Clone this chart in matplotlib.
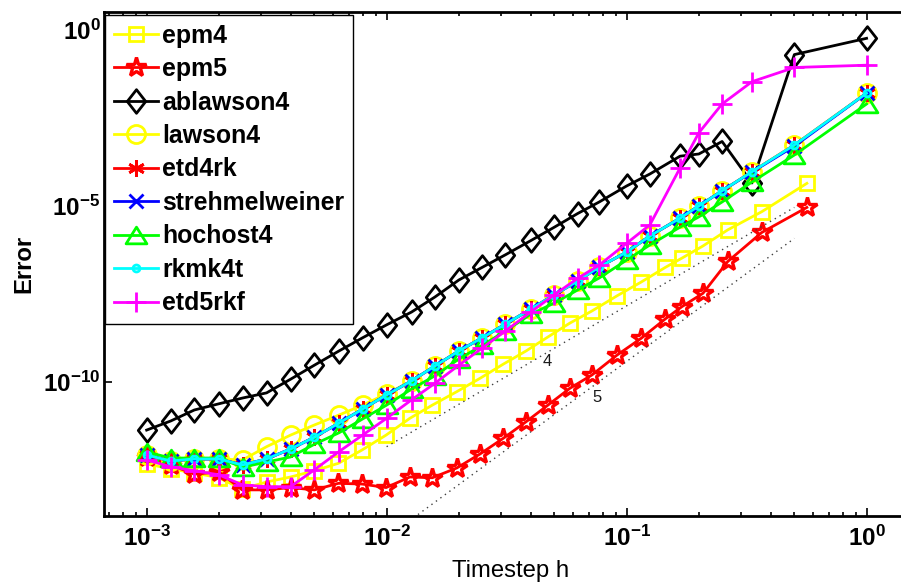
import matplotlib
matplotlib.use("Agg")
import matplotlib.pyplot as plt
from matplotlib.path import Path
from matplotlib.ticker import FixedLocator, NullLocator

plt.rcParams['font.family'] = ['Liberation Sans', 'DejaVu Sans']
plt.rcParams['mathtext.fontset'] = 'custom'
plt.rcParams['mathtext.rm'] = 'Liberation Sans:bold'
plt.rcParams['mathtext.it'] = 'Liberation Sans:bold'
plt.rcParams['mathtext.bf'] = 'Liberation Sans:bold'
plt.rcParams['mathtext.sf'] = 'Liberation Sans:bold'

# step sizes (h = 1/N)
h = [1.0, 0.5, 0.333, 0.25, 0.2, 0.167, 0.125, 0.1, 0.0769, 0.0625, 0.05, 0.04, 0.03125, 0.025,
     0.02, 0.0159, 0.0127, 0.01, 0.00794, 0.00633, 0.005, 0.00398, 0.00316, 0.00251, 0.002,
     0.00158, 0.00126, 0.001]
# the epm runs use slightly shifted step sizes
h_epm = [0.564, 0.366, 0.264, 0.208, 0.170, 0.145, 0.115, 0.0912, 0.0717, 0.058, 0.047, 0.0381,
         0.0306, 0.0245, 0.0196, 0.0155, 0.0125, 0.00995, 0.0079, 0.0063, 0.005, 0.00398, 0.00316,
         0.0025, 0.002, 0.00158, 0.00126, 0.001]

epm4 = [4.4e-5, 6.9e-6, 2.1e-6, 7.3e-7, 3.3e-7, 1.8e-7, 6.9e-8, 2.8e-8, 1.04e-8, 4.7e-9, 1.9e-9,
        7.6e-10, 3.2e-10, 1.27e-10, 5.3e-11, 2.2e-11, 9.3e-12, 3.1e-12, 1.17e-12, 4.9e-13, 3.0e-13,
        2.0e-13, 1.44e-13, 9.1e-14, 1.9e-13, 2.6e-13, 3.4e-13, 4.7e-13]
epm5 = [9.1e-6, 1.77e-6, 2.65e-7, 3.3e-8, 1.38e-8, 6.2e-9, 1.74e-9, 5.8e-10, 1.58e-10, 6.6e-11,
        2.2e-11, 7.4e-12, 2.5e-12, 9.0e-13, 3.6e-13, 1.9e-13, 2.0e-13, 1.0e-13, 1.26e-13, 1.32e-13,
        8.6e-14, 1.0e-13, 8.6e-14, 8.6e-14, 2.8e-13, 2.4e-13, 4.4e-13, 7.4e-13]
ablawson4 = [5.8e-1, 2.0e-1, 4.5e-5, 6.8e-4, 3.0e-4, 2.6e-4, 8.1e-5, 3.7e-5, 1.3e-5, 6.1e-6, 2.5e-6,
             1.05e-6, 4.1e-7, 1.8e-7, 7.9e-8, 2.6e-8, 9.7e-9, 4.2e-9, 1.8e-9, 7.6e-10, 3.0e-10,
             1.2e-10, 4.9e-11, 3.5e-11, 2.4e-11, 1.6e-11, 7.8e-12, 4.3e-12]
lawson4 = [1.6e-2, 5.4e-4, 9.4e-5, 2.7e-5, 1.0e-5, 4.5e-6, 1.4e-6, 4.9e-7, 1.85e-7, 7.4e-8, 3.0e-8,
           1.19e-8, 4.4e-9, 1.8e-9, 7.6e-10, 2.85e-10, 1.07e-10, 4.6e-11, 2.2e-11, 1.15e-11, 6.0e-12,
           3.1e-12, 1.45e-12, 6.1e-13, 6.5e-13, 6.5e-13, 5.7e-13, 8.4e-13]
etd4rk = [1.6e-2, 5.4e-4, 9.4e-5, 2.7e-5, 1.0e-5, 4.5e-6, 1.4e-6, 4.9e-7, 1.85e-7, 7.4e-8, 3.0e-8,
          1.19e-8, 4.4e-9, 1.8e-9, 7.6e-10, 2.85e-10, 1.07e-10, 4.3e-11, 1.7e-11, 6.8e-12, 2.7e-12,
          1.25e-12, 6.5e-13, 4.4e-13, 6.5e-13, 6.5e-13, 5.7e-13, 8.4e-13]
strehmelweiner = [1.6e-2, 5.0e-4, 9.2e-5, 2.7e-5, 1.0e-5, 4.5e-6, 1.4e-6, 4.9e-7, 1.85e-7, 7.4e-8,
                  3.0e-8, 1.19e-8, 4.4e-9, 1.8e-9, 7.6e-10, 2.85e-10, 1.07e-10, 4.3e-11, 1.7e-11,
                  6.8e-12, 2.7e-12, 1.25e-12, 6.5e-13, 4.4e-13, 6.5e-13, 6.5e-13, 5.7e-13, 8.4e-13]
hochost4 = [7.9e-3, 2.8e-4, 4.8e-5, 1.3e-5, 4.9e-6, 2.5e-6, 7.8e-7, 2.9e-7, 9.0e-8, 4.1e-8, 1.75e-8,
            8.5e-9, 2.8e-9, 1.1e-9, 4.5e-10, 1.5e-10, 6.3e-11, 2.2e-11, 8.9e-12, 3.6e-12, 1.7e-12,
            7.4e-13, 5.3e-13, 3.8e-13, 6.9e-13, 6.9e-13, 6.9e-13, 1.03e-12]
rkmk4t = [1.6e-2, 5.4e-4, 9.4e-5, 2.7e-5, 1.0e-5, 4.5e-6, 1.4e-6, 4.9e-7, 1.85e-7, 7.4e-8, 3.0e-8,
          1.19e-8, 4.4e-9, 1.8e-9, 7.6e-10, 2.85e-10, 1.07e-10, 4.3e-11, 1.7e-11, 6.8e-12, 2.7e-12,
          1.25e-12, 6.5e-13, 4.4e-13, 6.5e-13, 6.5e-13, 5.7e-13, 8.4e-13]
etd5rkf = [1.0e-1, 8.6e-2, 3.4e-2, 7.9e-3, 1.2e-3, 1.2e-4, 2.9e-6, 8.7e-7, 2.1e-7, 8.8e-8, 3.0e-8,
           9.9e-9, 2.8e-9, 9.2e-10, 3.0e-10, 9.2e-11, 3.1e-11, 9.3e-12, 3.1e-12, 1.05e-12, 3.2e-13,
           1.06e-13, 1.06e-13, 1.19e-13, 2.3e-13, 3.0e-13, 3.9e-13, 6.1e-13]

# reference slopes (order 4 and 5)
ref_h = [0.01, 0.5]
ref4 = [1.45e-12, 9.1e-6]
ref5 = [3.8e-15, 1.2e-6]
ref_labels = ['4', '5']
ref_label_pos = [(0.0466, 3.7e-10), (0.0751, 3.7e-11)]

xticks = [1e-3, 1e-2, 1e-1, 1e0]
xticklabels = [r'$10^{-3}$', r'$10^{-2}$', r'$10^{-1}$', r'$10^{0}$']
yticks = [1e-10, 1e-5, 1e0]
yticklabels = [r'$10^{-10}$', r'$10^{-5}$', r'$10^{0}$']

diamond = Path([(0, 1), (0.78, 0), (0, -1), (-0.78, 0), (0, 1)], closed=True)
triangle = Path([(0, 0.8), (-1, -0.8), (1, -0.8), (0, 0.8)], closed=True)

fig = plt.figure(figsize=(9.01, 5.87), dpi=100)
ax = fig.add_axes([0.1154, 0.121, 0.9034, 0.8586])

styles = [
    ('epm4', h_epm, epm4, (1, 1, 0), 's', 10.5, 2),
    ('epm5', h_epm, epm5, (1, 0, 0), '*', 15, 2.4),
    ('ablawson4', h, ablawson4, (0, 0, 0), diamond, 17, 2),
    ('lawson4', h, lawson4, (1, 1, 0), 'o', 13, 2),
    ('etd4rk', h, etd4rk, (1, 0, 0), (6, 2, 0), 12, 2),
    ('strehmelweiner', h, strehmelweiner, (0, 0, 1), 'x', 10, 2),
    ('hochost4', h, hochost4, (0, 1, 0), triangle, 15, 2),
    ('rkmk4t', h, rkmk4t, (0, 1, 1), '.', 10, 2),
    ('etd5rkf', h, etd5rkf, (1, 0, 1), '+', 14, 2),
]
for name, xs, ys, col, mk, ms, mew in styles:
    ax.loglog(xs, ys, color=col, marker=mk, markersize=ms, markerfacecolor='none',
              markeredgecolor=col, markeredgewidth=mew, linewidth=2, label=name)

ax.loglog(ref_h, ref4, color='0.25', linestyle=(0, (1, 3)), linewidth=1)
ax.loglog(ref_h, ref5, color='0.25', linestyle=(0, (1, 3)), linewidth=1)
for lab, (tx, ty) in zip(ref_labels, ref_label_pos):
    ax.text(tx, ty, lab, fontsize=12, ha='center', va='center', color='0.1')

ax.set_xlim(6.64e-4, 1.637)
ax.set_ylim(1.56e-14, 3.25)

ax.xaxis.set_major_locator(FixedLocator(xticks))
ax.set_xticklabels(xticklabels)
ax.yaxis.set_major_locator(FixedLocator(yticks))
ax.set_yticklabels(yticklabels)
ax.yaxis.set_minor_locator(NullLocator())

ax.tick_params(which='both', direction='in', top=True, right=True, width=1.2)
ax.tick_params(which='major', length=6, labelsize=17.5)
ax.tick_params(which='minor', length=3)
ax.tick_params(axis='x', pad=7)
ax.tick_params(axis='y', pad=2.5)
for s in ax.spines.values():
    s.set_linewidth(2)

ax.set_xlabel('Timestep h', fontsize=17.2)
ax.set_ylabel('Error', fontsize=17.2, fontweight='bold')
ax.xaxis.set_label_coords(0.5, -0.088)
ax.yaxis.set_label_coords(-0.084, 0.5)

leg = ax.legend(loc='upper left', bbox_to_anchor=(0.0012, 0.994), borderaxespad=0,
                prop={'weight': 'bold', 'size': 17.9}, handlelength=1.8, handletextpad=0.15,
                borderpad=0.35, labelspacing=0.38, fancybox=False, framealpha=1,
                edgecolor='k', numpoints=1)
leg.get_frame().set_linewidth(1)

fig.savefig('out.png', dpi=100)
